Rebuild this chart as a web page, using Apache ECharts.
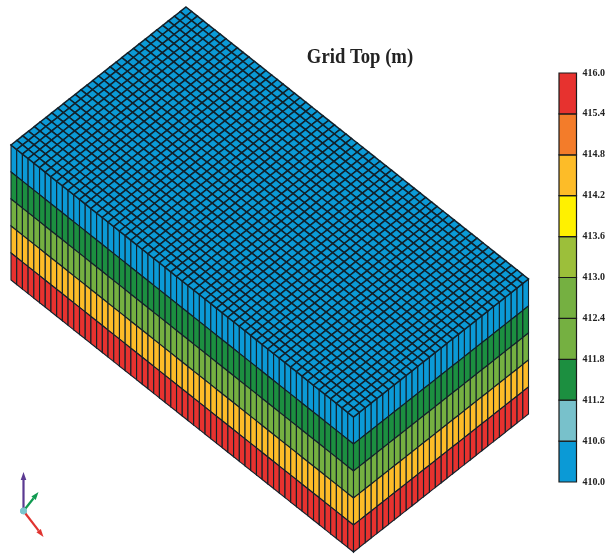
<!DOCTYPE html>
<html><head><meta charset="utf-8">
<style>html,body{margin:0;padding:0;background:#fff}#c{width:608px;height:555px}</style>
<script src="https://cdn.jsdelivr.net/npm/echarts@6/dist/echarts.min.js"></script>
</head><body><div id="c"></div>
<script>
// ---- data ----
const tickLabels = ["410.0","410.6","411.2","411.8","412.4","413.0","413.6","414.2","414.8","415.4","416.0"];
const binColors = ["#0b9ad6","#78c1cb","#1c8f40","#75b041","#75b041","#9cbf3a","#fff100","#fdbc28","#f37c2a","#e7322f"];
const layerValues = [410.3, 411.5, 412.6, 414.5, 415.7];   // top layer to bottom layer
const columnCount = 60;   // cells along the long side
const rowCount = 30;      // cells along the short side
const triadTips = [[0,-39,"#5b3a92"],[15,-19,"#0f9a50"],[20,26,"#e0332f"]];

const colorOf = v => binColors[Math.min(binColors.length-1, Math.floor((v-410)/0.6))];

// ---- grid cells: [face, i, j, k, value] ----
const cells = [];
for (let i=0;i<columnCount;i++) for (let k=0;k<layerValues.length;k++) cells.push([1,i,rowCount,k,layerValues[k]]);
for (let j=0;j<rowCount;j++) for (let k=0;k<layerValues.length;k++) cells.push([2,columnCount,j,k,layerValues[k]]);
for (let i=0;i<columnCount;i++) for (let j=0;j<rowCount;j++) cells.push([0,i,j,0,layerValues[0]]);

// oblique projection of block coordinates into the plot's units
const origin=[186,7], uDir=[342.5/60,272/60], vDir=[-175/30,138/30], wDir=[0,27];
const proj=(i,j,k)=>[origin[0]+i*uDir[0]+j*vDir[0]+k*wDir[0], origin[1]+i*uDir[1]+j*vDir[1]+k*wDir[1]];

function renderCell(params, api){
  const f=api.value(0), i=api.value(1), j=api.value(2), k=api.value(3), val=api.value(4);
  let q;
  if(f===0) q=[[i,j,0],[i+1,j,0],[i+1,j+1,0],[i,j+1,0]];
  else if(f===1) q=[[i,j,k],[i+1,j,k],[i+1,j,k+1],[i,j,k+1]];
  else q=[[i,j,k],[i,j+1,k],[i,j+1,k+1],[i,j,k+1]];
  const pts=q.map(p=>api.coord(proj(p[0],p[1],p[2])));
  return {type:'polygon',shape:{points:pts},silent:true,
    style:{fill:colorOf(val),stroke:'#12202a',lineWidth:f===0?1.5:1.1}};
}
function renderBin(params, api){
  const idx=api.value(0);
  const a=api.coord([0,idx]), b=api.coord([1,idx+1]);
  return {type:'rect',shape:{x:a[0],y:b[1],width:b[0]-a[0],height:a[1]-b[1]},silent:true,
    style:{fill:binColors[idx],stroke:'#1a1a1a',lineWidth:1.2}};
}
const triadOrigin=[23.5,511];
function renderTriad(params, api){
  const dx=api.value(0), dy=api.value(1), col=triadTips[params.dataIndex][2];
  const o=api.coord(triadOrigin), t=api.coord([triadOrigin[0]+dx,triadOrigin[1]+dy]);
  const len=Math.hypot(dx,dy), ux=dx/len, uy=dy/len, h=8, w=2.8;
  const bx=t[0]-ux*h, by=t[1]-uy*h;
  return {type:'group',silent:true,children:[
    {type:'line',shape:{x1:o[0],y1:o[1],x2:bx,y2:by},style:{stroke:col,lineWidth:2.2}},
    {type:'polygon',shape:{points:[[t[0],t[1]],[bx-uy*w,by+ux*w],[bx+uy*w,by-ux*w]]},style:{fill:col}},
    {type:'circle',shape:{cx:o[0],cy:o[1],r:3.2},style:{fill:'#7cc5cd'}}
  ]};
}

const chart=echarts.init(document.getElementById('c'),null,{renderer:'canvas'});
chart.setOption({
  animation:false,
  backgroundColor:'#ffffff',
  graphic:[{type:'text',x:360,y:57,scaleX:0.85,originX:0,originY:0,z:10,silent:true,
    style:{text:'Grid Top (m)',textAlign:'center',textVerticalAlign:'middle',
      font:'bold 22px "Liberation Serif"',fill:'#222'}}],
  grid:[
    {left:0,top:0,width:608,height:555},
    {left:559,top:73,width:19,height:409}
  ],
  xAxis:[
    {gridIndex:0,type:'value',min:0,max:608,show:false},
    {gridIndex:1,type:'value',min:0,max:1,show:false}
  ],
  yAxis:[
    {gridIndex:0,type:'value',min:0,max:555,inverse:true,show:false},
    {gridIndex:1,type:'category',data:tickLabels,boundaryGap:false,position:'right',
      axisLine:{show:false},axisTick:{show:false},splitLine:{show:false},
      axisLabel:{show:true,interval:0,margin:6,fontFamily:'Liberation Serif',fontWeight:'bold',fontSize:10,color:'#222'}}
  ],
  series:[
    {type:'custom',xAxisIndex:0,yAxisIndex:0,coordinateSystem:'cartesian2d',data:cells,
     renderItem:renderCell,progressive:0,clip:false,encode:{x:1,y:2}},
    {type:'custom',xAxisIndex:1,yAxisIndex:1,coordinateSystem:'cartesian2d',
     data:binColors.map((c,i)=>[i]),renderItem:renderBin,encode:{y:0},clip:false},
    {type:'custom',xAxisIndex:0,yAxisIndex:0,coordinateSystem:'cartesian2d',
     data:triadTips.map(t=>[t[0],t[1]]),renderItem:renderTriad,clip:false}
  ]
});
</script></body></html>
